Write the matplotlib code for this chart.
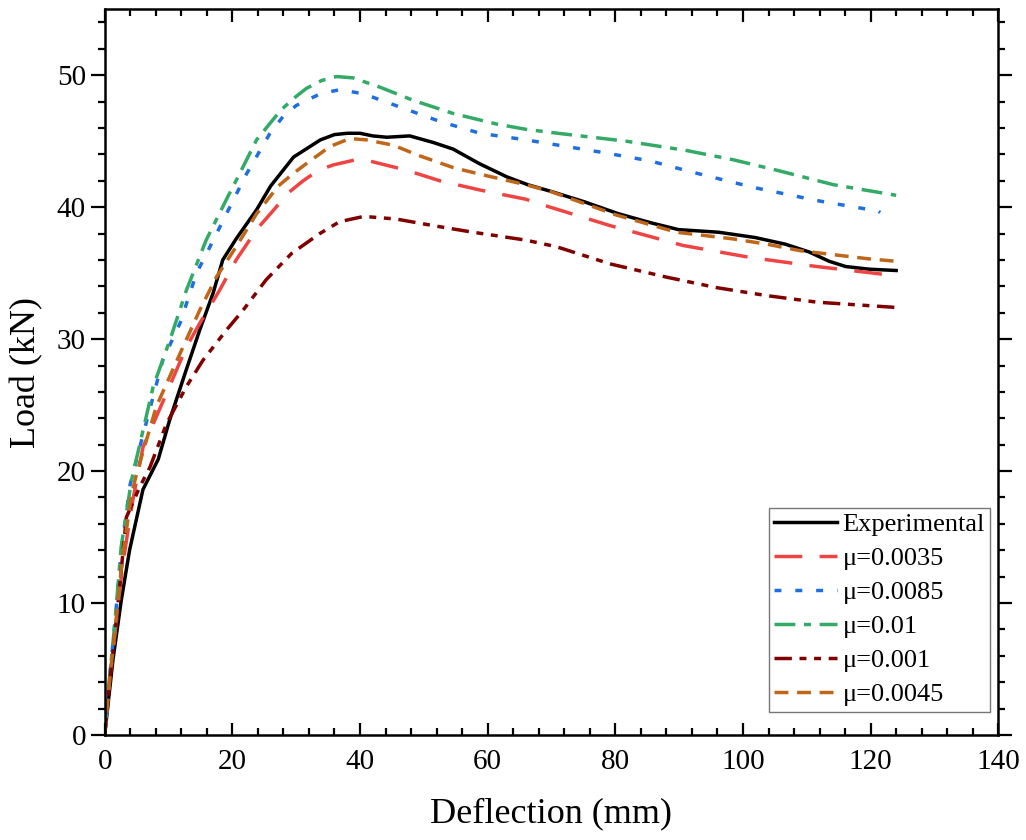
import matplotlib
matplotlib.use("Agg")
import matplotlib.pyplot as plt
from matplotlib.ticker import MultipleLocator

plt.rcParams['font.family'] = ['Liberation Serif', 'DejaVu Serif']

# Experimental curve
exp_x = [0, 1.3, 2.6, 3.9, 6.0, 8.4, 10.2, 12.8, 14.9, 17.0, 18.5, 20.6, 23.8, 26.0,
         29.6, 33.8, 36.0, 38.0, 40.0, 42.0, 44.2, 47.8, 51.5, 54.6, 58.7, 63.0, 66.3, 69.9,
         75.2, 80.5, 85.7, 89.9, 96.2, 101.9, 106.6, 110.4, 113.5, 116.1, 119.8, 124.0]
exp_y = [0, 5.7, 10.2, 14.0, 18.6, 20.9, 23.9, 27.7, 30.7, 33.5, 36.0, 37.6, 39.8, 41.6,
         43.8, 45.1, 45.5, 45.6, 45.6, 45.4, 45.3, 45.4, 44.9, 44.4, 43.3, 42.3, 41.7, 41.2,
         40.4, 39.5, 38.8, 38.3, 38.1, 37.7, 37.2, 36.6, 35.9, 35.5, 35.3, 35.2]

# mu = 0.0035
m35_x = [0, 0.8, 1.7, 2.8, 4.3, 6.0, 9.7, 12.8, 14.9, 18.0, 20.6, 23.8, 26.5, 28.8, 31.1,
         33.5, 35.8, 39.4, 41.5, 47.3, 52.5, 58.8, 66.0, 69.8, 79.2, 90.6, 101.0, 111.6, 124.0]
m35_y = [0, 4.2, 8.0, 12.8, 17.5, 21.8, 25.9, 29.4, 31.2, 33.7, 36.0, 38.3, 39.8, 41.1, 42.0,
         42.8, 43.2, 43.6, 43.5, 42.8, 42.0, 41.3, 40.6, 40.0, 38.6, 37.1, 36.2, 35.5, 34.8]

# mu = 0.0085
m85_x = [0, 0.8, 1.6, 2.6, 4.0, 5.5, 9.1, 11.8, 14.4, 16.5, 19.6, 22.2, 25.9, 28.0, 30.0,
         33.8, 36.8, 40.5, 46.2, 52.5, 58.8, 66.0, 78.6, 85.5, 91.7, 101.6, 111.6, 121.2, 121.5]
m85_y = [0, 4.5, 8.5, 14.0, 19.0, 21.8, 28.4, 31.2, 35.0, 37.0, 40.0, 42.5, 45.6, 46.9, 47.7,
         48.6, 48.9, 48.6, 47.6, 46.5, 45.6, 45.1, 44.1, 43.5, 42.7, 41.5, 40.5, 39.7, 39.6]

# mu = 0.01
m10_x = [0, 0.8, 1.6, 2.6, 4.2, 7.6, 10.2, 12.8, 15.9, 19.3, 21.0, 23.8, 27.5, 29.5, 31.6,
         34.0, 36.3, 38.9, 43.1, 48.3, 54.6, 61.4, 66.0, 71.0, 81.7, 91.1, 98.4, 105.3, 114.2, 124.0]
m10_y = [0, 4.5, 8.5, 14.3, 19.3, 26.4, 29.9, 33.7, 37.5, 40.8, 42.4, 45.1, 47.3, 48.2, 49.0,
         49.6, 49.9, 49.8, 49.1, 48.1, 47.1, 46.3, 45.9, 45.6, 45.0, 44.3, 43.6, 42.8, 41.7, 40.9]

# mu = 0.001
m01_x = [0, 0.9, 1.9, 3.4, 5.5, 7.1, 9.7, 12.8, 15.4, 19.1, 21.7, 25.3, 29.3, 33.7,
         36.8, 40.6, 45.7, 51.5, 57.7, 61.9, 66.0, 70.8, 79.2, 88.0, 95.9, 103.7, 111.6, 124.0]
m01_y = [0, 4.5, 9.0, 16.5, 18.8, 20.3, 23.6, 26.4, 28.4, 30.7, 32.2, 34.5, 36.5, 38.0,
         38.9, 39.3, 39.1, 38.6, 38.1, 37.8, 37.5, 37.0, 35.7, 34.7, 33.9, 33.3, 32.8, 32.4]

# mu = 0.0045
m45_x = [0, 0.8, 1.7, 2.8, 4.2, 5.0, 8.1, 11.8, 14.9, 17.5, 20.6, 23.8, 27.2, 29.4, 31.6,
         35.3, 38.4, 41.0, 45.2, 49.3, 54.6, 58.8, 66.0, 69.8, 80.2, 89.6, 98.4, 103.7,
         109.0, 114.2, 119.4, 124.0]
m45_y = [0, 4.3, 8.2, 13.5, 18.2, 19.8, 24.9, 28.9, 32.2, 34.7, 37.0, 39.5, 41.6, 42.5, 43.3,
         44.6, 45.2, 45.1, 44.7, 43.9, 43.0, 42.5, 41.7, 41.2, 39.4, 38.1, 37.6, 37.2,
         36.7, 36.4, 36.1, 35.9]

fig = plt.figure(figsize=(10.26, 8.4), dpi=100)
ax = fig.add_axes([0.102, 0.125, 0.871, 0.864])

lw = 2.5
ax.plot(exp_x, exp_y, color='black', lw=lw, label='Experimental')
ax.plot(m35_x, m35_y, color='#EF4444', lw=lw, dashes=(8, 5), label='μ=0.0035')
ax.plot(m85_x, m85_y, color='#1F6FE0', lw=lw, dashes=(2, 4), label='μ=0.0085')
ax.plot(m10_x, m10_y, color='#33AA66', lw=lw, dashes=(6, 2.5, 2, 2.5), label='μ=0.01')
ax.plot(m01_x, m01_y, color='#800000', lw=lw, dashes=(5, 2.2, 2, 2.2, 2, 2.2), label='μ=0.001')
ax.plot(m45_x, m45_y, color='#C0661A', lw=lw, dashes=(4, 2.5), label='μ=0.0045')

ax.set_xlim(0, 140)
ax.set_ylim(0, 55)
ax.xaxis.set_major_locator(MultipleLocator(20))
ax.xaxis.set_minor_locator(MultipleLocator(4))
ax.yaxis.set_major_locator(MultipleLocator(10))
ax.yaxis.set_minor_locator(MultipleLocator(2))
ax.set_yticks([0, 10, 20, 30, 40, 50])

for s in ax.spines.values():
    s.set_linewidth(1.8)

ax.tick_params(axis='x', which='both', direction='in', top=True, width=1.6, labelsize=21, pad=10)
ax.tick_params(axis='x', which='major', length=9)
ax.tick_params(axis='x', which='minor', length=5)
ax.tick_params(axis='y', which='both', direction='out', right=True, width=1.6, labelsize=21)
ax.tick_params(axis='y', which='major', length=10)
ax.tick_params(axis='y', which='minor', length=5)

ax.set_xlabel('Deflection (mm)', fontsize=26, labelpad=16)
ax.set_ylabel('Load (kN)', fontsize=26, labelpad=10)

leg = ax.legend(loc='lower right', bbox_to_anchor=(0.991, 0.032), fontsize=19,
                frameon=True, fancybox=False, handlelength=2.4, handletextpad=0.2,
                borderpad=0.2, labelspacing=0.4, borderaxespad=0.0)
leg.get_frame().set_edgecolor('#555555')
leg.get_frame().set_linewidth(1.0)

fig.savefig('out.png', dpi=100)
